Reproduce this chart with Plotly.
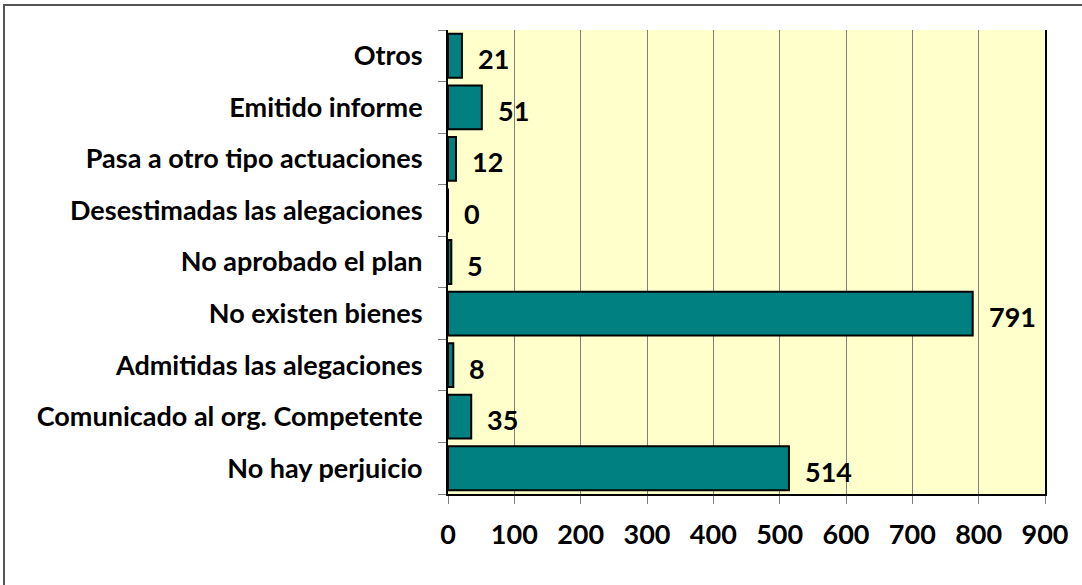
import plotly.graph_objects as go

categories = [
    "No hay perjuicio",
    "Comunicado al org. Competente",
    "Admitidas las alegaciones",
    "No existen bienes",
    "No aprobado el plan",
    "Desestimadas las alegaciones",
    "Pasa a otro tipo actuaciones",
    "Emitido informe",
    "Otros",
]
values = [514, 35, 8, 791, 5, 0, 12, 51, 21]
x_ticks = [0, 100, 200, 300, 400, 500, 600, 700, 800, 900]

FONT = "Lato"
FS = 27

fig = go.Figure()
fig.add_trace(go.Bar(
    y=categories,
    x=values,
    orientation="h",
    marker=dict(color="#008080", line=dict(color="#000000", width=2)),
    hoverinfo="skip",
))

for c, v in zip(categories, values):
    fig.add_annotation(
        x=v, y=c, text=str(v), showarrow=False,
        xanchor="left", yanchor="middle", xshift=14, yshift=-3,
        font=dict(family=FONT, size=FS, color="#000000", weight="bold"),
    )

# outer chart border
L, R, T, B = 448, 1045, 30, 494
W, H = R - L, B - T
fig.add_shape(
    type="rect", xref="paper", yref="paper",
    x0=(4 - L) / W, x1=(1090 - L) / W,
    y0=(B - 595) / H, y1=(B - 5) / H,
    line=dict(color="#555555", width=2), fillcolor="rgba(0,0,0,0)", layer="below",
)

fig.update_layout(
    width=1082, height=585,
    margin=dict(l=L, r=1082 - R, t=T, b=585 - B),
    paper_bgcolor="#FFFFFF",
    plot_bgcolor="#FFFFCC",
    bargap=0.15,
    showlegend=False,
    font=dict(family=FONT, size=FS, color="#000000"),
    xaxis=dict(
        range=[0, 900], tickvals=x_ticks, ticktext=[str(t) for t in x_ticks],
        showgrid=True, gridcolor="#808080", gridwidth=1,
        showline=True, linecolor="#000000", linewidth=2,
        ticks="outside", ticklen=8, tickcolor="#808080",
        tickfont=dict(family=FONT, size=FS, color="#000000", weight="bold"),
        ticklabelstandoff=8, zeroline=False, fixedrange=True,
    ),
    yaxis=dict(
        categoryorder="array", categoryarray=categories,
        showgrid=False, showline=True, mirror=True, linecolor="#000000", linewidth=2,
        ticks="outside", ticklen=8, tickcolor="#808080", tickson="boundaries",
        tickfont=dict(family=FONT, size=FS, color="#000000", weight="bold"),
        ticklabelstandoff=18, fixedrange=True,
    ),
)

fig.write_html("out.html", config={"displayModeBar": False},
               post_script="document.body.style.margin='0';")
